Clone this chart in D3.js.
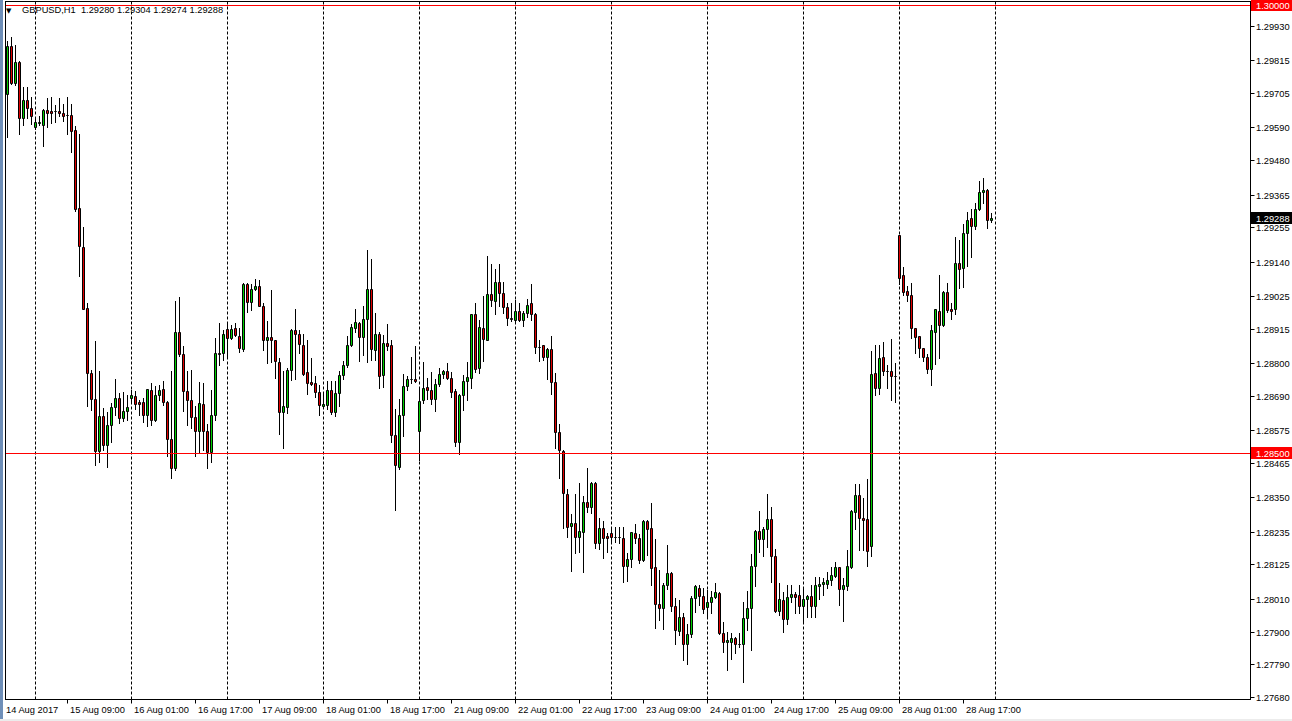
<!DOCTYPE html>
<html><head><meta charset="utf-8">
<script src="https://cdn.jsdelivr.net/npm/d3@7"></script>
<style>
html,body{margin:0;padding:0;background:#fff;overflow:hidden}
svg{display:block}
text{font-family:"Liberation Sans",Arial,sans-serif;font-size:9.3px;white-space:pre}
</style></head><body>
<svg id="chart" width="1292" height="721"></svg>
<script>
const symbol = "GBPUSD,H1";
const lastBar = ["1.29280","1.29304","1.29274","1.29288"];
const opens = [1.29701,1.29862,1.29738,1.29808,1.29623,1.29681,1.29654,1.29593,1.29604,1.29599,1.29648,1.29645,1.29645,1.29645,1.29637,1.29630,1.29633,1.29581,1.29321,1.29190,
1.28985,1.28767,1.28680,1.28504,1.28621,1.28524,1.28593,1.28653,1.28683,1.28616,1.28640,1.28683,1.28691,1.28668,1.28668,1.28627,1.28711,1.28608,1.28694,1.28713,
1.28670,1.28545,1.28450,1.28905,1.28832,1.28708,1.28677,1.28619,1.28571,1.28664,1.28571,1.28503,1.28627,1.28834,1.28834,1.28915,1.28885,1.28918,1.28892,1.28848,
1.29066,1.29005,1.29047,1.29060,1.28993,1.28876,1.28887,1.28879,1.28804,1.28635,1.28653,1.28778,1.28912,1.28898,1.28862,1.28770,1.28738,1.28734,1.28703,1.28655,
1.28661,1.28711,1.28636,1.28700,1.28759,1.28793,1.28860,1.28918,1.28935,1.28887,1.28949,1.29050,1.28844,1.28898,1.28759,1.28868,1.28859,1.28560,1.28453,1.28625,
1.28722,1.28748,1.28747,1.28571,1.28675,1.28720,1.28709,1.28680,1.28730,1.28764,1.28775,1.28750,1.28708,1.28537,1.28692,1.28741,1.28750,1.28963,1.28784,1.28918,
1.28879,1.29030,1.29008,1.29073,1.29036,1.28987,1.28952,1.28944,1.28976,1.28944,1.28969,1.29000,1.28965,1.28855,1.28859,1.28819,1.28848,1.28737,1.28569,1.28506,
1.28361,1.28255,1.28263,1.28218,1.28235,1.28334,1.28316,1.28398,1.28196,1.28247,1.28221,1.28230,1.28216,1.28216,1.28213,1.28121,1.28143,1.28230,1.28213,1.28140,
1.28271,1.28247,1.28116,1.27991,1.27980,1.28056,1.28095,1.27987,1.27903,1.27950,1.27857,1.27891,1.28011,1.28047,1.28020,1.27983,1.28000,1.28017,1.28028,1.27894,
1.27864,1.27866,1.27877,1.27857,1.27857,1.27946,1.27978,1.28121,1.28237,1.28211,1.28244,1.28278,1.28154,1.27969,1.28006,1.27942,1.28017,1.28026,1.28023,1.27987,
1.28008,1.28019,1.27986,1.28053,1.28060,1.28060,1.28073,1.28086,1.28116,1.28042,1.28054,1.28118,1.28302,1.28358,1.28282,1.28278,1.28188,1.28767,1.28717,1.28821,
1.28772,1.28772,1.28756,1.29228,1.29094,1.29043,1.29027,1.28918,1.28890,1.28851,1.28821,1.28780,1.28903,1.28974,1.28927,1.29039,1.28980,1.28980,1.29136,1.29120,
1.29237,1.29288,1.29259,1.29318,1.29372,1.29379,1.29280];
const highs = [1.29880,1.29892,1.29866,1.29813,1.29724,1.29724,1.29691,1.29623,1.29629,1.29651,1.29687,1.29691,1.29665,1.29687,1.29668,1.29691,1.29668,1.29595,1.29567,1.29257,
1.29002,1.28778,1.28873,1.28772,1.28650,1.28636,1.28666,1.28748,1.28700,1.28702,1.28694,1.28711,1.28705,1.28677,1.28683,1.28714,1.28734,1.28722,1.28728,1.28739,
1.28672,1.28775,1.29008,1.29022,1.28856,1.28772,1.28778,1.28655,1.28737,1.28734,1.28597,1.28709,1.28885,1.28933,1.28912,1.28933,1.28929,1.28935,1.28918,1.29069,
1.29069,1.29064,1.29083,1.29080,1.29002,1.28940,1.29044,1.28879,1.28817,1.28772,1.28784,1.28915,1.28980,1.28912,1.28899,1.28879,1.28817,1.28756,1.28728,1.28697,
1.28739,1.28739,1.28739,1.28775,1.28808,1.28890,1.28932,1.28980,1.28938,1.28991,1.29178,1.29148,1.28969,1.28905,1.28893,1.28932,1.28876,1.28647,1.28681,1.28765,
1.28758,1.28821,1.28856,1.28713,1.28803,1.28750,1.28769,1.28747,1.28784,1.28778,1.28801,1.28769,1.28713,1.28698,1.28761,1.28805,1.28966,1.29000,1.28944,1.29024,
1.29159,1.29131,1.29116,1.29131,1.29071,1.29002,1.29002,1.29013,1.29002,1.28976,1.29016,1.29064,1.28969,1.28879,1.28862,1.28851,1.28892,1.28767,1.28596,1.28509,
1.28379,1.28294,1.28361,1.28398,1.28353,1.28450,1.28403,1.28401,1.28280,1.28269,1.28230,1.28252,1.28249,1.28252,1.28252,1.28163,1.28235,1.28260,1.28226,1.28274,
1.28274,1.28331,1.28211,1.28107,1.28062,1.28190,1.28099,1.28011,1.28006,1.27961,1.27924,1.28020,1.28056,1.28056,1.28045,1.28039,1.28036,1.28062,1.28032,1.27933,
1.27899,1.27894,1.27883,1.27894,1.28000,1.28036,1.28159,1.28241,1.28305,1.28252,1.28361,1.28316,1.28177,1.28062,1.28034,1.28056,1.28056,1.28032,1.28056,1.28043,
1.28023,1.28056,1.28084,1.28084,1.28079,1.28101,1.28116,1.28134,1.28118,1.28079,1.28174,1.28308,1.28395,1.28395,1.28347,1.28411,1.28840,1.28862,1.28862,1.28871,
1.28792,1.28882,1.28801,1.29231,1.29123,1.29060,1.29067,1.28918,1.28892,1.28851,1.28829,1.28929,1.28982,1.29094,1.29041,1.29069,1.29000,1.29224,1.29212,1.29265,
1.29306,1.29315,1.29338,1.29410,1.29419,1.29385,1.29304];
const lows = [1.29557,1.29735,1.29732,1.29567,1.29598,1.29620,1.29601,1.29584,1.29598,1.29528,1.29590,1.29604,1.29607,1.29627,1.29612,1.29567,1.29508,1.29310,1.29091,1.28980,
1.28657,1.28644,1.28459,1.28470,1.28507,1.28453,1.28537,1.28627,1.28599,1.28605,1.28610,1.28672,1.28647,1.28627,1.28603,1.28588,1.28593,1.28605,1.28677,1.28661,
1.28487,1.28414,1.28442,1.28823,1.28638,1.28593,1.28584,1.28487,1.28498,1.28509,1.28449,1.28469,1.28610,1.28795,1.28812,1.28821,1.28882,1.28890,1.28836,1.28840,
1.28971,1.28977,1.29044,1.28991,1.28843,1.28801,1.28803,1.28750,1.28562,1.28517,1.28633,1.28742,1.28745,1.28834,1.28761,1.28697,1.28725,1.28685,1.28625,1.28650,
1.28647,1.28629,1.28621,1.28655,1.28745,1.28786,1.28856,1.28905,1.28806,1.28826,1.28804,1.28812,1.28812,1.28717,1.28719,1.28845,1.28537,1.28308,1.28446,1.28554,
1.28711,1.28734,1.28735,1.28476,1.28666,1.28680,1.28664,1.28638,1.28724,1.28750,1.28745,1.28688,1.28521,1.28496,1.28644,1.28677,1.28717,1.28769,1.28767,1.28806,
1.28877,1.28993,1.28963,1.28993,1.28969,1.28927,1.28940,1.28939,1.28940,1.28924,1.28954,1.28943,1.28834,1.28808,1.28812,1.28745,1.28697,1.28517,1.28414,1.28247,
1.28218,1.28103,1.28163,1.28168,1.28101,1.28302,1.28297,1.28179,1.28177,1.28146,1.28168,1.28202,1.28200,1.28196,1.28065,1.28070,1.28118,1.28196,1.28129,1.28137,
1.28157,1.28056,1.27911,1.27939,1.27908,1.28043,1.27969,1.27857,1.27888,1.27804,1.27790,1.27883,1.27967,1.27989,1.27961,1.27953,1.27961,1.28011,1.27891,1.27830,
1.27771,1.27808,1.27827,1.27849,1.27731,1.27905,1.27838,1.28054,1.28166,1.28155,1.28185,1.28067,1.27967,1.27955,1.27899,1.27924,1.27998,1.27961,1.27961,1.27931,
1.27948,1.27950,1.27950,1.28008,1.28023,1.28045,1.28056,1.28082,1.27989,1.27936,1.28039,1.28112,1.28243,1.28174,1.28174,1.28120,1.28154,1.28694,1.28697,1.28761,
1.28717,1.28677,1.28668,1.29064,1.29027,1.29008,1.28885,1.28834,1.28821,1.28806,1.28767,1.28728,1.28797,1.28817,1.28924,1.28971,1.28948,1.28963,1.29053,1.29056,
1.29127,1.29157,1.29248,1.29313,1.29338,1.29254,1.29274];
const closes = [1.29862,1.29738,1.29808,1.29620,1.29681,1.29654,1.29627,1.29607,1.29608,1.29650,1.29637,1.29637,1.29644,1.29637,1.29629,1.29630,1.29578,1.29315,1.29192,1.28982,
1.28767,1.28680,1.28504,1.28621,1.28526,1.28593,1.28653,1.28683,1.28616,1.28640,1.28653,1.28694,1.28663,1.28663,1.28627,1.28713,1.28608,1.28694,1.28710,1.28668,
1.28545,1.28448,1.28905,1.28829,1.28705,1.28675,1.28619,1.28571,1.28666,1.28571,1.28503,1.28627,1.28834,1.28831,1.28896,1.28885,1.28915,1.28893,1.28851,1.29066,
1.29005,1.29047,1.29060,1.28993,1.28876,1.28887,1.28876,1.28806,1.28635,1.28657,1.28778,1.28912,1.28898,1.28864,1.28765,1.28734,1.28730,1.28703,1.28661,1.28663,
1.28711,1.28636,1.28700,1.28761,1.28795,1.28862,1.28920,1.28938,1.28887,1.28949,1.29050,1.28848,1.28898,1.28756,1.28868,1.28856,1.28558,1.28457,1.28625,1.28724,
1.28747,1.28748,1.28739,1.28672,1.28717,1.28709,1.28680,1.28730,1.28764,1.28775,1.28750,1.28702,1.28537,1.28694,1.28741,1.28755,1.28963,1.28780,1.28922,1.28881,
1.29030,1.29011,1.29073,1.29036,1.28987,1.28952,1.28947,1.28976,1.28944,1.28969,1.28996,1.28965,1.28853,1.28853,1.28819,1.28848,1.28736,1.28568,1.28509,1.28364,
1.28252,1.28263,1.28218,1.28237,1.28334,1.28316,1.28398,1.28198,1.28247,1.28215,1.28213,1.28216,1.28216,1.28216,1.28121,1.28143,1.28233,1.28213,1.28140,1.28271,
1.28243,1.28114,1.27991,1.27980,1.28056,1.28095,1.27987,1.27905,1.27948,1.27857,1.27891,1.28011,1.28053,1.28020,1.27975,1.28000,1.28017,1.28032,1.27894,1.27866,
1.27871,1.27877,1.27860,1.27857,1.27944,1.27978,1.28120,1.28237,1.28211,1.28244,1.28278,1.28155,1.27969,1.28009,1.27942,1.28017,1.28026,1.28017,1.27987,1.28008,
1.28019,1.27986,1.28056,1.28060,1.28067,1.28073,1.28090,1.28116,1.28042,1.28056,1.28120,1.28305,1.28358,1.28280,1.28274,1.28171,1.28765,1.28717,1.28817,1.28772,
1.28772,1.28756,1.28756,1.29086,1.29038,1.29027,1.28918,1.28888,1.28851,1.28821,1.28780,1.28912,1.28980,1.28929,1.29039,1.28977,1.28974,1.29136,1.29116,1.29237,
1.29280,1.29259,1.29318,1.29372,1.29379,1.29280,1.29288];

const timeLabels = ["14 Aug 2017","15 Aug 09:00","16 Aug 01:00","16 Aug 17:00","17 Aug 09:00","18 Aug 01:00","18 Aug 17:00","21 Aug 09:00","22 Aug 01:00","22 Aug 17:00","23 Aug 09:00","24 Aug 01:00","24 Aug 17:00","25 Aug 09:00","28 Aug 01:00","28 Aug 17:00"];
const timeLabelBars = [-1,15,31,47,63,79,95,111,127,143,159,175,191,207,223,239];
const gridBars = [7,31,55,79,103,127,151,175,199,223,247];
const priceTicks = ["1.29930","1.29815","1.29705","1.29590","1.29480","1.29365","1.29255","1.29140","1.29025","1.28915","1.28800","1.28690","1.28575","1.28465","1.28350","1.28235","1.28125","1.28010","1.27900","1.27790","1.27680"];
const levels = [1.30000, 1.28500];
const currentPrice = 1.29288;

const svg = d3.select("#chart");
const W = 1292, H = 721;
const P = {left:5.5, top:1.5, right:1250.5, bottom:699.5};
const x = d3.scaleLinear().domain([-1, 247]).range([3, 995]);
const y = d3.scaleLinear().domain([1.2768, 1.2993]).range([697.2, 26]);
const UP = "#00d000", DOWN = "#e00000";

svg.append("rect").attr("width", W).attr("height", H).attr("fill", "#fff");
// window edge strip & bottom tab strip
svg.append("rect").attr("x",0).attr("y",0).attr("width",3).attr("height",H).attr("fill","#6f8fb8");
svg.append("rect").attr("x",0).attr("y",719).attr("width",W).attr("height",2).attr("fill","#ececec");

const clampY = v => Math.min(P.bottom-1, Math.max(P.top+1.5, y(v)));

// vertical dashed grid
svg.append("g").selectAll("line").data(gridBars).join("line")
  .attr("x1", d => Math.round(x(d))+0.5).attr("x2", d => Math.round(x(d))+0.5)
  .attr("y1", P.top).attr("y2", P.bottom)
  .attr("stroke","#000").attr("stroke-width",1).attr("stroke-dasharray","3,2");

// candles
const bars = d3.range(opens.length).map(i => ({i, o:opens[i], h:highs[i], l:lows[i], c:closes[i]}));
const g = svg.append("g");
bars.forEach(b => {
  const cx = Math.round(x(b.i));
  const yh = Math.round(y(b.h)), yl = Math.round(y(b.l));
  g.append("rect").attr("x", cx).attr("y", yh).attr("width", 1).attr("height", Math.max(1, yl - yh + 1)).attr("fill","#000");
  const yo = Math.round(y(b.o)), yc = Math.round(y(b.c));
  const t = Math.min(yo, yc) + 0.5, bt = Math.max(yo, yc) + 0.5;
  const fill = b.c > b.o ? UP : (b.c < b.o ? DOWN : "none");
  g.append("path")
    .attr("d", `M${cx-0.5},${t}H${cx+1.5}V${bt}H${cx-0.5}Z`)
    .attr("fill", fill).attr("stroke","#000").attr("stroke-width",1);
});

// horizontal level lines (drawn over the candles, as in the terminal)
svg.append("g").selectAll("rect").data(levels).join("rect")
  .attr("x", P.left).attr("width", P.right - P.left)
  .attr("y", d => Math.round(clampY(d))).attr("height", 1)
  .attr("fill","#ff0000").attr("shape-rendering","crispEdges");

// frame
svg.append("rect").attr("x",P.left).attr("y",P.top).attr("width",P.right-P.left).attr("height",P.bottom-P.top)
  .attr("fill","none").attr("stroke","#000").attr("stroke-width",1);

// price axis
const pa = svg.append("g");
priceTicks.forEach(t => {
  const yy = Math.round(y(+t));
  pa.append("line").attr("x1",P.right).attr("x2",P.right+4).attr("y1",yy+0.5).attr("y2",yy+0.5).attr("stroke","#000");
  pa.append("text").attr("x",1256).attr("y",yy+3.5).attr("fill","#000").text(t);
});
function priceBox(v, color) {
  const yy = Math.round(clampY(v));
  pa.append("rect").attr("x",P.right+0.5).attr("y",yy-6).attr("width",W-P.right).attr("height",12).attr("fill",color);
  pa.append("text").attr("x",1256).attr("y",yy+3.5).attr("fill","#fff").text(v.toFixed(5));
}
levels.forEach(v => priceBox(v, "#ff0000"));
priceBox(currentPrice, "#000");

// time axis
const ta = svg.append("g");
timeLabels.forEach((t, k) => {
  const xx = Math.round(x(timeLabelBars[k]));
  if (xx > P.left) ta.append("line").attr("x1",xx+0.5).attr("x2",xx+0.5).attr("y1",P.bottom).attr("y2",P.bottom+4).attr("stroke","#000");
  ta.append("text").attr("x",xx+3).attr("y",713).attr("fill","#000").text(t);
});

// title
svg.append("text").attr("x",6).attr("y",13).attr("fill","#000").style("font-family","DejaVu Sans").style("font-size","7px").text("▼");
svg.append("text").attr("x",22).attr("y",13).attr("fill","#000")
  .text(symbol + "  " + lastBar.join(" "));
</script>
</body></html>
